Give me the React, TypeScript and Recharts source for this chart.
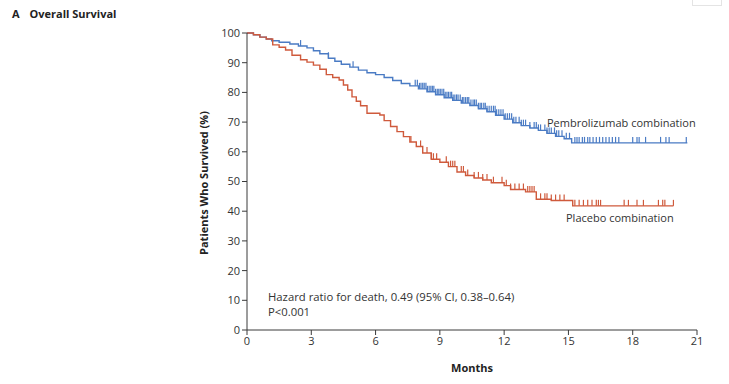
import React from "react";
import { ComposedChart, Line, Scatter, XAxis, YAxis } from "recharts";

// Kaplan-Meier steps (months, % surviving)
const pembroTimes = [0, 0.3, 0.6, 0.9, 1.15, 1.5, 2.0, 2.4, 2.8, 3.1, 3.4, 3.8, 4.1, 4.4, 4.8, 5.2, 5.6, 6.0, 6.4, 6.8, 7.2, 7.6, 8.0, 8.4, 8.8, 9.2, 9.6, 10.0, 10.4, 10.8, 11.2, 11.6, 12.0, 12.4, 12.8, 13.2, 13.6, 14.0, 14.4, 14.8, 15.15, 20.55];
const pembroValues = [100, 99.4, 98.6, 98.0, 97.4, 96.9, 96.3, 95.6, 95.0, 94.0, 93.0, 91.5, 90.5, 89.5, 88.5, 87.5, 86.6, 86.0, 85.0, 84.0, 83.0, 82.2, 81.2, 80.2, 79.2, 78.2, 77.3, 76.4, 75.6, 74.5, 73.5, 72.3, 71.0, 69.8, 68.8, 68.0, 67.2, 66.2, 65.2, 64.4, 63.0, 63.0];

const placeboTimes = [0, 0.3, 0.6, 0.9, 1.2, 1.5, 1.8, 2.1, 2.5, 2.8, 3.1, 3.4, 3.7, 4.0, 4.3, 4.5, 4.7, 4.9, 5.1, 5.3, 5.6, 6.2, 6.4, 6.7, 7.0, 7.3, 7.6, 7.9, 8.2, 8.6, 9.0, 9.4, 9.8, 10.2, 10.6, 11.0, 11.4, 12.0, 12.3, 13.0, 13.5, 14.2, 15.2, 19.9];
const placeboValues = [100, 99.4, 98.6, 98.0, 96.0, 95.2, 94.3, 92.5, 91.0, 90.2, 89.2, 87.8, 86.0, 85.0, 84.2, 82.5, 80.8, 78.5, 77.0, 75.5, 73.0, 72.4, 70.5, 68.5, 66.8, 65.1, 63.3, 61.8, 59.6, 57.5, 56.5, 55.0, 53.2, 52.0, 51.2, 50.5, 49.6, 48.6, 47.3, 46.5, 44.0, 43.6, 41.8, 41.8];

// censoring times (tick marks)
const pembroCensored = [2.5, 3.8, 4.95, 7.85, 7.95, 8.05, 8.12, 8.2, 8.27, 8.35, 8.42, 8.5, 8.58, 8.65, 8.72, 8.8, 8.88, 8.95, 9.02, 9.1, 9.18, 9.25, 9.33, 9.4, 9.48, 9.55, 9.62, 9.7, 9.78, 9.85, 9.95, 10.05, 10.12, 10.2, 10.28, 10.35, 10.45, 10.55, 10.62, 10.7, 10.8, 10.88, 10.95, 11.05, 11.12, 11.2, 11.3, 11.4, 11.5, 11.58, 11.65, 11.75, 11.85, 11.95, 12.05, 12.15, 12.25, 12.35, 12.45, 12.55, 12.7, 12.8, 12.9, 13.0, 13.2, 13.4, 13.5, 13.6, 13.7, 13.9, 14.0, 14.1, 14.2, 14.35, 14.45, 14.55, 14.7, 14.9, 15.05, 15.3, 15.4, 15.5, 15.65, 15.75, 15.9, 16.0, 16.15, 16.3, 16.45, 16.6, 16.75, 16.9, 17.05, 17.2, 17.35, 18.0, 18.2, 18.3, 18.6, 19.3, 19.55, 19.7, 20.5];
const placeboCensored = [7.65, 8.1, 8.4, 8.6, 8.7, 8.85, 9.3, 9.5, 9.6, 9.7, 10.0, 10.1, 10.3, 10.6, 10.8, 11.0, 11.2, 11.5, 11.9, 12.1, 12.3, 12.5, 12.7, 12.9, 13.1, 13.2, 13.3, 13.4, 13.7, 13.9, 14.0, 14.2, 14.4, 14.6, 14.8, 15.3, 15.5, 15.7, 15.9, 16.1, 16.3, 16.4, 16.5, 17.6, 17.8, 18.2, 18.5, 19.2, 19.4, 19.5, 19.9];

const xTicks = [0, 3, 6, 9, 12, 15, 18, 21];
const yTicks = [0, 10, 20, 30, 40, 50, 60, 70, 80, 90, 100];

const BLUE = "#4a7bc4";
const RED = "#cf5a3c";
const AXIS = "#3a3a3a";
const FONT = "'Open Sans', sans-serif";

const toSteps = (times: number[], values: number[]) =>
  times.map((t, i) => ({ t, v: values[i] }));

const survivalAt = (times: number[], values: number[], at: number) => {
  let v = values[0];
  for (let i = 0; i < times.length; i++) if (times[i] <= at) v = values[i];
  return v;
};

const toCensor = (cens: number[], times: number[], values: number[]) =>
  cens.map((t) => ({ t, v: survivalAt(times, values, t) }));

const pembroData = toSteps(pembroTimes, pembroValues);
const placeboData = toSteps(placeboTimes, placeboValues);
const pembroCens = toCensor(pembroCensored, pembroTimes, pembroValues);
const placeboCens = toCensor(placeboCensored, placeboTimes, placeboValues);

const tick = (color: string) => (props: any) => {
  const { cx, cy } = props;
  return <line x1={cx} x2={cx} y1={cy - 6} y2={cy} stroke={color} strokeWidth={1.2} />;
};

const txt: React.CSSProperties = {
  position: "absolute",
  fontFamily: FONT,
  fontSize: 11,
  color: "#333",
  whiteSpace: "nowrap",
  lineHeight: "15px",
};

export default function App() {
  return (
    <div style={{ position: "absolute", left: 0, top: 0, width: 729, height: 384, background: "#fff", overflow: "hidden" }}>
      <div style={{ position: "absolute", left: 692, top: -1, width: 28, height: 5, border: "1px solid #e4e4e4" }} />
      <div style={{ ...txt, left: 12, top: 6, fontWeight: 700, fontSize: 11, color: "#222" }}>
        A<span style={{ marginLeft: 10 }}>Overall Survival</span>
      </div>

      <ComposedChart
        width={729}
        height={384}
        margin={{ top: 33, right: 32, bottom: 24, left: 0 }}
        style={{ position: "absolute", left: 0, top: 0 }}
      >
        <XAxis
          dataKey="t"
          type="number"
          domain={[0, 21]}
          ticks={xTicks}
          allowDuplicatedCategory={false}
          height={30}
          tickSize={5}
          tickMargin={2}
          stroke={AXIS}
          tick={{ fill: "#333", fontSize: 11, fontFamily: FONT }}
        />
        <YAxis
          dataKey="v"
          type="number"
          domain={[0, 100]}
          ticks={yTicks}
          width={247}
          tickSize={5}
          tickMargin={2}
          stroke={AXIS}
          tick={{ fill: "#333", fontSize: 11, fontFamily: FONT }}
        />
        <Line data={pembroData} dataKey="v" type="stepAfter" stroke={BLUE} strokeWidth={1.4} dot={false} isAnimationActive={false} />
        <Line data={placeboData} dataKey="v" type="stepAfter" stroke={RED} strokeWidth={1.4} dot={false} isAnimationActive={false} />
        <Scatter data={pembroCens} dataKey="v" shape={tick(BLUE)} isAnimationActive={false} />
        <Scatter data={placeboCens} dataKey="v" shape={tick(RED)} isAnimationActive={false} />
      </ComposedChart>

      <div
        style={{
          ...txt,
          left: 203,
          top: 183,
          fontWeight: 700,
          color: "#222",
          transform: "translate(-50%, -50%) rotate(-90deg)",
        }}
      >
        Patients Who Survived (%)
      </div>
      <div style={{ ...txt, left: 472, top: 360, fontWeight: 700, color: "#222", transform: "translateX(-50%)" }}>Months</div>
      <div style={{ ...txt, left: 547, top: 115 }}>Pembrolizumab combination</div>
      <div style={{ ...txt, left: 566, top: 210 }}>Placebo combination</div>
      <div style={{ ...txt, left: 268, top: 289, fontSize: 11.3 }}>
        Hazard ratio for death, 0.49 (95% CI, 0.38–0.64)
        <br />
        P&lt;0.001
      </div>
    </div>
  );
}
